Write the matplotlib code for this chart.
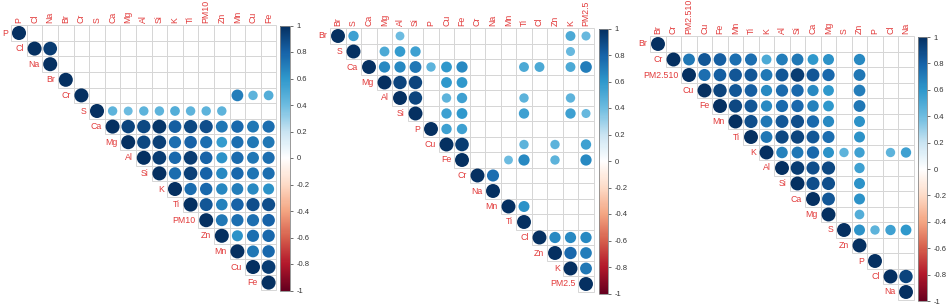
import numpy as np
import matplotlib
matplotlib.use('Agg')
import matplotlib.pyplot as plt
from matplotlib.patches import Circle, Rectangle
from matplotlib.colors import LinearSegmentedColormap, Normalize
from matplotlib.cm import ScalarMappable

plt.rcParams['font.family'] = ['Liberation Sans', 'DejaVu Sans']

# ---- data: upper triangle rows, each row starts at the diagonal; 0 = not shown
vars1 = ['P', 'Cl', 'Na', 'Br', 'Cr', 'S', 'Ca', 'Mg', 'Al', 'Si', 'K', 'Ti',
         'PM10', 'Zn', 'Mn', 'Cu', 'Fe']
corr1 = [
    [1, 0, 0, 0, 0, 0, 0, 0, 0, 0, 0, 0, 0, 0, 0, 0, 0],
    [1, .95, 0, 0, 0, 0, 0, 0, 0, 0, 0, 0, 0, 0, 0, 0],
    [1, 0, 0, 0, 0, 0, 0, 0, 0, 0, 0, 0, 0, 0, 0],
    [1, 0, 0, 0, 0, 0, 0, 0, 0, 0, 0, 0, 0, 0],
    [1, 0, 0, 0, 0, 0, 0, 0, 0, 0, .70, .45, .48],
    [1, .45, .40, .45, .45, .48, .45, .45, .45, 0, 0, 0],
    [1, .92, .90, .97, .82, .90, .88, .72, .78, .72, .75],
    [1, .90, .93, .75, .80, .75, .58, .75, .72, .72],
    [1, .95, .78, .95, .80, .62, .77, .72, .75],
    [1, .76, .93, .80, .65, .78, .73, .75],
    [1, .76, .78, .66, .70, .65, .62],
    [1, .85, .68, .80, .88, .88],
    [1, .72, .75, .75, .80],
    [1, .62, .75, .78],
    [1, .72, .78],
    [1, .95],
    [1],
]

vars2 = ['Br', 'S', 'Ca', 'Mg', 'Al', 'Si', 'P', 'Cu', 'Fe', 'Cr', 'Na', 'Mn',
         'Ti', 'Cl', 'Zn', 'K', 'PM2.5']
corr2 = [
    [1, .55, 0, 0, .40, 0, 0, 0, 0, 0, 0, 0, 0, 0, 0, .50, .42],
    [1, 0, .50, .58, .55, 0, 0, 0, 0, 0, 0, 0, 0, 0, .42, 0],
    [1, .65, .65, .72, .45, .60, .65, 0, 0, 0, .50, .50, 0, .50, .70],
    [1, .92, .92, 0, .60, .60, 0, 0, 0, 0, 0, 0, 0, 0],
    [1, .92, 0, .45, .55, 0, 0, 0, .45, 0, 0, .45, 0],
    [1, 0, .55, .60, 0, 0, 0, .55, 0, 0, .55, .42],
    [1, .55, .55, 0, 0, 0, 0, 0, 0, 0, 0],
    [1, .95, 0, 0, 0, .45, 0, .45, 0, .55],
    [1, 0, 0, .40, .65, 0, .45, 0, .65],
    [1, .75, 0, 0, 0, 0, 0, 0],
    [1, 0, 0, 0, 0, 0, 0],
    [1, .62, 0, 0, 0, 0],
    [1, 0, 0, 0, 0],
    [1, .65, .65, .65],
    [1, .78, .70],
    [1, .72],
    [1],
]

vars3 = ['Br', 'Cr', 'PM2.510', 'Cu', 'Fe', 'Mn', 'Ti', 'K', 'Al', 'Si', 'Ca',
         'Mg', 'S', 'Zn', 'P', 'Cl', 'Na']
corr3 = [
    [1, 0, 0, 0, 0, 0, 0, 0, 0, 0, 0, 0, 0, 0, 0, 0, 0],
    [1, .72, .85, .82, .75, .75, .50, .70, .72, .60, .62, 0, .65, 0, 0, 0],
    [1, .75, .82, .85, .85, .72, .85, .95, .85, .78, 0, .72, 0, 0, 0],
    [1, .92, .85, .82, .65, .77, .78, .65, .60, 0, .70, 0, 0, 0],
    [1, .90, .85, .65, .77, .78, .68, .60, 0, .72, 0, 0, 0],
    [1, .88, .72, .85, .88, .78, .65, 0, .62, 0, 0, 0],
    [1, .72, .90, .92, .85, .75, 0, .62, 0, 0, 0],
    [1, .68, .72, .78, .62, .45, .55, 0, .45, .55],
    [1, .95, .88, .90, 0, .55, 0, 0, 0],
    [1, .88, .88, 0, .62, 0, 0, 0],
    [1, .85, 0, .62, 0, 0, 0],
    [1, 0, .48, 0, 0, 0],
    [1, .62, .45, .55, .60],
    [1, 0, 0, 0],
    [1, 0, 0],
    [1, .92],
    [1],
]

cbar_ticks = [1, 0.8, 0.6, 0.4, 0.2, 0, -0.2, -0.4, -0.6, -0.8, -1]

# corrplot style red-white-blue palette (blue side a bit more cyan, like the picture)
cmap = LinearSegmentedColormap.from_list('corrRdBu', [
    '#67001F', '#B2182B', '#D6604D', '#F4A582', '#FDDBC7', '#FFFFFF',
    '#C9E4F2', '#6DBCE0', '#2F98CC', '#1763A8', '#053061'])
norm = Normalize(-1, 1)

W, H = 948, 305
fig = plt.figure(figsize=(W / 100, H / 100), dpi=100)

# (x of first column centre, y of first row centre, cell size, colourbar x0, x1, y0, y1) in px
panels = [
    (vars1, corr1, 19.0, 33.0, 15.6, 280, 290, 25.5, 290.5),
    (vars2, corr2, 338.0, 36.0, 15.5, 599, 608, 28.5, 293.5),
    (vars3, corr3, 658.0, 44.0, 15.5, 918, 927, 37.0, 301.0),
]

label_col = '#E23B3B'
for names, rows, cx0, cy0, cell, bx0, bx1, by0, by1 in panels:
    n = len(names)
    left = cx0 - cell / 2
    top = cy0 - cell / 2
    ax = fig.add_axes([left / W, 1 - (top + n * cell) / H, n * cell / W, n * cell / H])
    ax.set_xlim(-0.5, n - 0.5)
    ax.set_ylim(n - 0.5, -0.5)
    ax.axis('off')

    for i, row in enumerate(rows):
        for k, r in enumerate(row):
            j = i + k
            ax.add_patch(Rectangle((j - 0.5, i - 0.5), 1, 1, fill=False,
                                   ec='#D6D6D6', lw=0.7, clip_on=False))
            if r != 0:
                ax.add_patch(Circle((j, i), 0.45 * np.sqrt(abs(r)),
                                    fc=cmap(norm(r)), ec='none', clip_on=False))
        # row label, left of diagonal cell
        ax.text(i - 0.7, i, names[i], ha='right', va='center', fontsize=6.3,
                color=label_col, clip_on=False)
    for j, nm in enumerate(names):
        ax.text(j, -0.65, nm, ha='center', va='bottom', rotation=90, fontsize=6.3,
                color=label_col, clip_on=False)

    cax = fig.add_axes([bx0 / W, 1 - by1 / H, (bx1 - bx0) / W, (by1 - by0) / H])
    cb = fig.colorbar(ScalarMappable(norm=norm, cmap=cmap), cax=cax)
    cb.set_ticks(cbar_ticks)
    cb.set_ticklabels([f'{t:g}' for t in cbar_ticks])
    cb.outline.set_edgecolor('#888888')
    cb.outline.set_linewidth(0.6)
    cax.tick_params(labelsize=5.5, length=2, width=0.5, pad=3, colors='#333333')

plt.savefig('out.png', dpi=100)
